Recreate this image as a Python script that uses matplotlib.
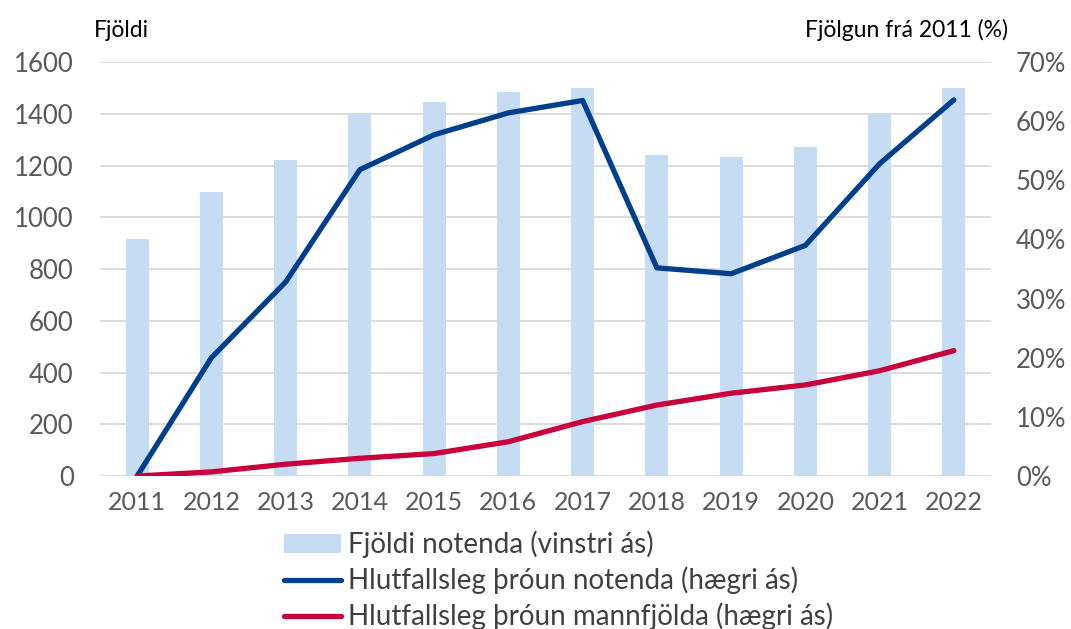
import numpy as np
import matplotlib.pyplot as plt
from matplotlib.ticker import PercentFormatter

# data
years = ['2011', '2012', '2013', '2014', '2015', '2016',
         '2017', '2018', '2019', '2020', '2021', '2022']
notendur = [916, 1097, 1221, 1398, 1445, 1483, 1499, 1239, 1232, 1272, 1399, 1501]
throun_notenda = [0.0, 20.0, 32.8, 51.8, 57.7, 61.4, 63.5, 35.2, 34.2, 39.0, 52.8, 63.6]
throun_mannfjolda = [0.0, 0.7, 2.0, 3.0, 3.8, 5.8, 9.2, 12.0, 14.0, 15.4, 17.8, 21.2]

plt.rcParams['font.family'] = ['Lato', 'DejaVu Sans']
tick_color = '#595959'

fig = plt.figure(figsize=(10.71, 6.29), dpi=100)
ax = fig.add_axes([0.0934, 0.2432, 0.9253 - 0.0934, 0.9014 - 0.2432])
ax2 = ax.twinx()

x = np.arange(len(years))
bars = ax.bar(x, notendur, width=0.31, color='#c6dcf2', zorder=2,
              label='Fjöldi notenda (vinstri ás)')
ax.set_ylim(0, 1600)
ax.set_yticks(range(0, 1601, 200))
ax.set_xlim(-0.5, len(years) - 0.5)
ax.set_xticks(x)
ax.set_xticklabels(years)
ax.grid(axis='y', color='#d9d9d9', linewidth=1.3, zorder=0)
ax.set_axisbelow(True)

l1, = ax2.plot(x, throun_notenda, color='#003f8c', linewidth=3.8,
               solid_capstyle='round', solid_joinstyle='round',
               label='Hlutfallsleg þróun notenda (hægri ás)')
l2, = ax2.plot(x, throun_mannfjolda, color='#c8003c', linewidth=3.8,
               solid_capstyle='round', solid_joinstyle='round',
               label='Hlutfallsleg þróun mannfjölda (hægri ás)')
ax2.set_ylim(0, 70)
ax2.set_yticks(range(0, 71, 10))
ax2.yaxis.set_major_formatter(PercentFormatter(decimals=0))

for a in (ax, ax2):
    for s in a.spines.values():
        s.set_visible(False)
    a.tick_params(length=0, labelsize=18.5, colors=tick_color)
ax.tick_params(axis='y', pad=19)
ax.tick_params(axis='x', labelsize=18, pad=11)
ax2.tick_params(axis='y', pad=18)

fig.text(0.088, 0.952, 'Fjöldi', fontsize=16.5, ha='left', va='center', color='black')
fig.text(0.941, 0.952, 'Fjölgun frá 2011 (%)', fontsize=16.5, ha='right', va='center',
         color='black')

fig.legend(handles=[bars, l1, l2], loc='upper left', bbox_to_anchor=(0.265, 0.156),
           frameon=False, fontsize=20, handlelength=2.05, handletextpad=0.25,
           labelspacing=0.3, borderpad=0, borderaxespad=0, labelcolor='#404040')

fig.savefig('out.png', dpi=100)
